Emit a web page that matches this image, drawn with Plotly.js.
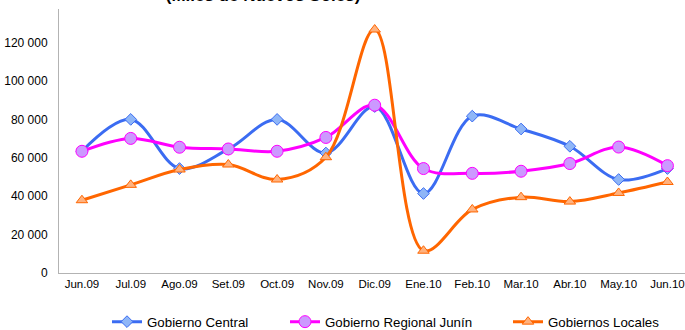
<!DOCTYPE html>
<html>
<head>
<meta charset="utf-8">
<script src="https://cdn.plot.ly/plotly-3.0.1.min.js"></script>
<style>html,body{margin:0;padding:0;background:#fff;}#chart{width:685px;height:330px;}</style>
</head>
<body>
<div id="chart"></div>
<script>
var months = ["Jun.09","Jul.09","Ago.09","Set.09","Oct.09","Nov.09","Dic.09","Ene.10","Feb.10","Mar.10","Abr.10","May.10","Jun.10"];
var gobiernoCentral = [63400, 80000, 54400, 64500, 80000, 62500, 86700, 41400, 81700, 75000, 66000, 48700, 54400];
var gobiernoRegional = [63400, 70100, 65500, 64600, 63400, 70600, 87400, 54400, 51900, 53000, 57000, 65600, 55900];
var gobiernosLocales = [37900, 45900, 53900, 56500, 48700, 60300, 126800, 11600, 33100, 39500, 37200, 41700, 47400];
var yTickVals = [0, 20000, 40000, 60000, 80000, 100000, 120000];
var yTickText = ["0", "20 000", "40 000", "60 000", "80 000", "100 000", "120 000"];
var seriesNames = ["Gobierno Central", "Gobierno Regional Junín", "Gobiernos Locales"];

var xIdx = months.map(function(m, i){ return i; });
var font = "Liberation Sans, Arial, sans-serif";

function trace(y, name, color, symbol, fill, size, legend){
  return {
    x: xIdx, y: y, name: name, type: "scatter", mode: "lines+markers",
    line: {color: color, width: 3, shape: "spline", smoothing: 1},
    marker: {symbol: symbol, size: size, color: fill, line: {color: color, width: 1}},
    legend: legend, cliponaxis: false
  };
}

var data = [
  trace(gobiernoCentral, seriesNames[0], "#3b6cf2", "diamond", "#8fb6f7", 9, "legend"),
  trace(gobiernoRegional, seriesNames[1], "#ff00ff", "circle", "#cc99ff", 12, "legend2"),
  trace(gobiernosLocales, seriesNames[2], "#ff6600", "triangle-up", "#ffb27f", 10, "legend3")
];

function leg(px){
  return {orientation: "h", x: (px - 59) / 626, xref: "paper", y: (273 - 322) / 264, yref: "paper",
    xanchor: "left", yanchor: "middle", font: {family: font, size: 13.3, color: "#000"},
    bgcolor: "rgba(0,0,0,0)", itemwidth: 30, tracegroupgap: 0};
}

var layout = {
  width: 685, height: 330,
  margin: {l: 59, r: 0, t: 9, b: 57, autoexpand: false},
  paper_bgcolor: "#fff", plot_bgcolor: "#fff",
  title: {text: "(Miles de Nuevos Soles)", font: {family: font, size: 17, color: "#000", weight: "bold"},
    x: 0.384, xanchor: "center", xref: "container", y: 0.996, yanchor: "bottom", yref: "container"},
  showlegend: true,
  legend: leg(107),
  legend2: leg(285),
  legend3: leg(508),
  xaxis: {range: [-0.47, 12.36], tickvals: xIdx, ticktext: months, showgrid: false, zeroline: false,
    showline: true, linecolor: "#b3b3b3", linewidth: 1, ticks: "", fixedrange: true,
    ticklabeloverflow: "allow",
    tickfont: {family: font, size: 11.5, color: "#000"}},
  yaxis: {range: [0, 137500], tickvals: yTickVals, ticktext: yTickText, showgrid: false, zeroline: false,
    showline: true, linecolor: "#b3b3b3", linewidth: 1, ticks: "", ticklabelstandoff: 8,
    tickfont: {family: font, size: 12, color: "#000"}}
};

Plotly.newPlot("chart", data, layout, {displayModeBar: false, staticPlot: true});
</script>
</body>
</html>
